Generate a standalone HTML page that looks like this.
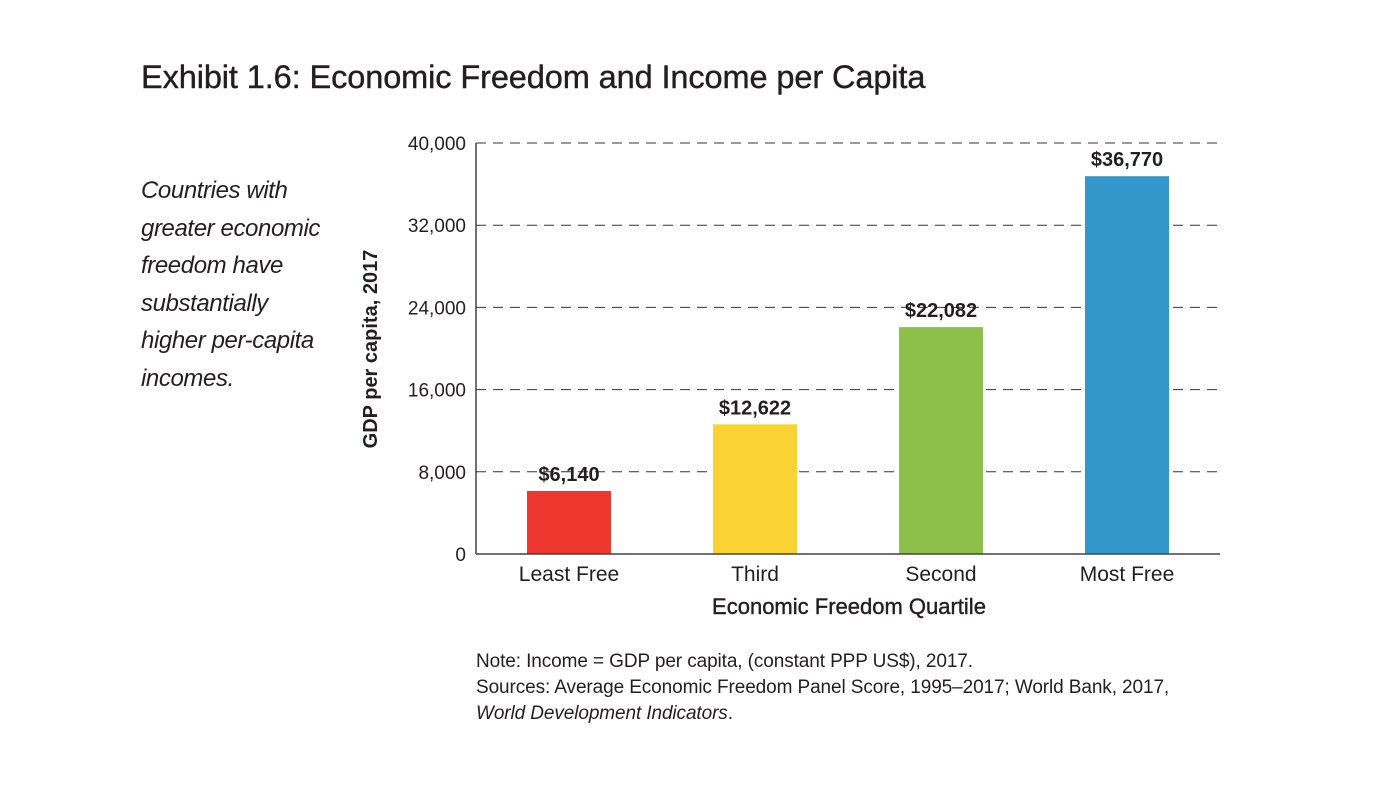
<!DOCTYPE html>
<html><head><meta charset="utf-8"><style>
body{margin:0;background:#fff;width:1378px;height:787px;overflow:hidden;font-family:"Liberation Sans",sans-serif;color:#231f20}
.t{position:absolute;white-space:nowrap}
</style></head><body>
<div class="t" style="left:141px;top:59px;font-size:32.5px;letter-spacing:-0.1px;-webkit-text-stroke:0.4px #231f20">Exhibit 1.6: Economic Freedom and Income per Capita</div>
<div class="t" style="left:141px;top:172px;font-size:24px;font-style:italic;line-height:37.5px;letter-spacing:-0.4px;white-space:normal;width:220px">Countries with<br>greater economic<br>freedom have<br>substantially<br>higher per-capita<br>incomes.</div>
<svg id="chart" style="position:absolute;left:0;top:0" width="1378" height="787"></svg>
<div class="t" style="left:476px;top:649px;font-size:19px;line-height:26px;letter-spacing:-0.1px">Note: Income = GDP per capita, (constant PPP US$), 2017.<br>Sources: Average Economic Freedom Panel Score, 1995–2017; World Bank, 2017,<br><i>World Development Indicators</i>.</div>
<script>
const categories=["Least Free","Third","Second","Most Free"];
const values=[6140,12622,22082,36770];
const valueLabels=["$6,140","$12,622","$22,082","$36,770"];
const colors=["#ee372e","#fbd234","#8cc04a","#3497cb"];
const ticks=[0,8000,16000,24000,32000,40000];
const tickLabels=["0","8,000","16,000","24,000","32,000","40,000"];
const svg=document.getElementById('chart');const NS='http://www.w3.org/2000/svg';
const x0=476,x1=1220,y0=554,y1=143,ymax=40000;
const y=v=>y0-(v/ymax)*(y0-y1);
const band=(x1-x0)/categories.length;
const xc=i=>x0+band*(i+0.5);
function mk(tag,attrs,text){const e=document.createElementNS(NS,tag);for(const k in attrs)e.setAttribute(k,attrs[k]);if(text!==undefined)e.textContent=text;svg.appendChild(e);return e;}
ticks.forEach((t,i)=>{
 if(t>0){const g=mk('line',{x1:x0,x2:x1,y1:y(t),y2:y(t),stroke:'#333','stroke-width':1,'stroke-dasharray':'10,7'});
 
 }
 const l=mk('text',{x:466,y:y(t)+7,'text-anchor':'end','font-size':19,fill:'#231f20','font-family':'Liberation Sans'},tickLabels[i]);
 
 
});
categories.forEach((c,i)=>{
 const w=84;const b=mk('rect',{x:xc(i)-w/2,y:y(values[i]),width:w,height:y0-y(values[i]),fill:colors[i]});
 
 
 const v=mk('text',{x:xc(i),y:y(values[i])-10,'text-anchor':'middle','font-size':20,'font-weight':'bold',fill:'#231f20','font-family':'Liberation Sans Narrow, Liberation Sans'},valueLabels[i]);
 
 
 const l=mk('text',{x:xc(i),y:581,'text-anchor':'middle','font-size':21,fill:'#231f20','font-family':'Liberation Sans'},c);
 
 
});
const ax=mk('line',{x1:x0,x2:x0,y1:y1,y2:y0,stroke:'#444','stroke-width':1.5});


const bx=mk('line',{x1:x0,x2:x1,y1:y0,y2:y0,stroke:'#444','stroke-width':1.5});


const xt=mk('text',{x:849,y:614,'text-anchor':'middle','font-size':22,fill:'#231f20','font-family':'Liberation Sans','stroke':'#231f20','stroke-width':0.4},'Economic Freedom Quartile');


const yt=mk('text',{x:0,y:0,'text-anchor':'middle','font-size':20,'font-weight':'bold',fill:'#231f20','font-family':'Liberation Sans',transform:'translate(377,349) rotate(-90)'},'GDP per capita, 2017');


</script>
</body></html>
